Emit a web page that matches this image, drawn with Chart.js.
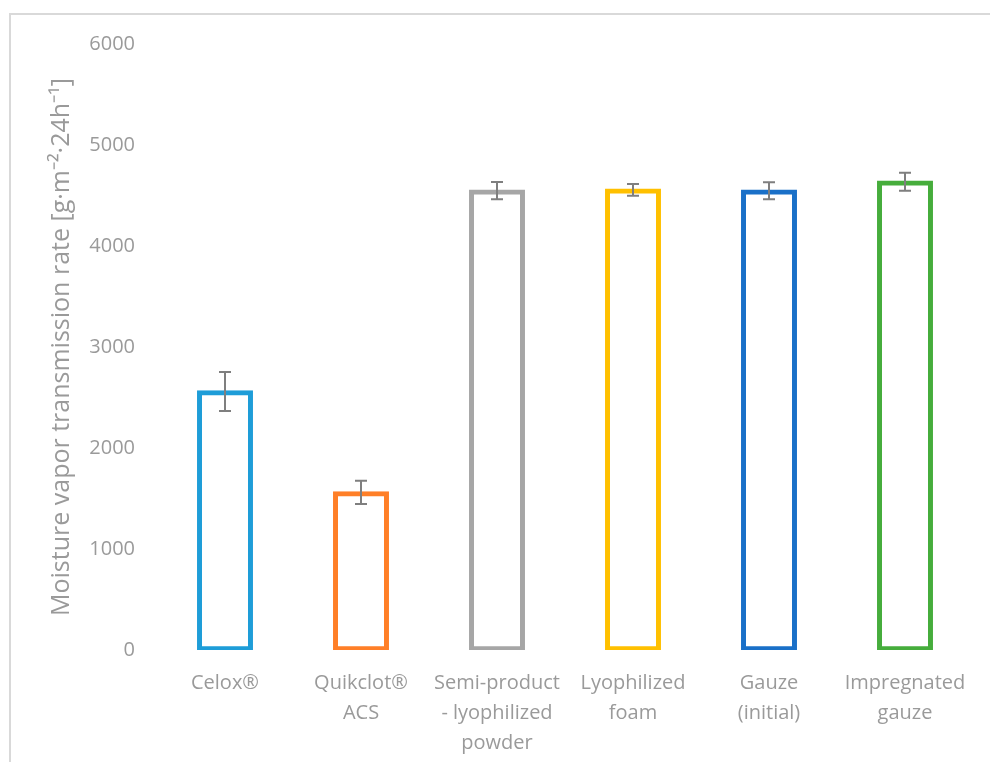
<!DOCTYPE html>
<html>
<head>
<meta charset="utf-8">
<script src="https://cdn.jsdelivr.net/npm/chart.js@4"></script>
<style>
  html, body { margin: 0; padding: 0; background: #fff; }
  #wrap { width: 990px; height: 762px; }
</style>
</head>
<body>
<div id="wrap"><canvas id="mvtrChart"></canvas></div>
<script>
// --- data ---
const categories = [
  'Celox®',
  ['Quikclot®', 'ACS'],
  ['Semi-product', '- lyophilized', 'powder'],
  ['Lyophilized', 'foam'],
  ['Gauze', '(initial)'],
  ['Impregnated', 'gauze']
];
const mvtr    = [2560, 1560, 4548, 4556, 4547, 4636];
const mvtrErr = [193, 115, 86, 58, 85, 90];
const barColors = ['#1e9dd8', '#ff7f27', '#a6a6a6', '#ffc000', '#1a70c8', '#46ad3c'];
const yTicks = { min: 0, max: 6000, step: 1000 };

const textGray = '#9a9a9a';

// frame around the plot + white page
const framePlugin = {
  id: 'frame',
  beforeDraw(chart) {
    const { ctx, width, height } = chart;
    ctx.save();
    ctx.fillStyle = '#fff';
    ctx.fillRect(0, 0, width, height);
    ctx.strokeStyle = '#d9d9d9';
    ctx.lineWidth = 2;
    ctx.strokeRect(10, 14, width + 20, height + 20);
    ctx.restore();
  }
};

// +/- error whiskers on each bar
const errorBarPlugin = {
  id: 'errorBars',
  afterDatasetsDraw(chart) {
    const { ctx } = chart;
    const y = chart.scales.y;
    const meta = chart.getDatasetMeta(0);
    ctx.save();
    ctx.strokeStyle = '#7f7f7f';
    ctx.lineWidth = 2;
    meta.data.forEach((bar, i) => {
      const top = y.getPixelForValue(mvtr[i] + mvtrErr[i]);
      const bot = y.getPixelForValue(mvtr[i] - mvtrErr[i]);
      const x = bar.x, cap = 6;
      ctx.beginPath();
      ctx.moveTo(x, top); ctx.lineTo(x, bot);
      ctx.moveTo(x - cap, top); ctx.lineTo(x + cap, top);
      ctx.moveTo(x - cap, bot); ctx.lineTo(x + cap, bot);
      ctx.stroke();
    });
    ctx.restore();
  }
};

new Chart(document.getElementById('mvtrChart'), {
  type: 'bar',
  data: {
    labels: categories,
    datasets: [{
      data: mvtr,
      backgroundColor: 'rgba(255,255,255,0)',
      borderColor: barColors,
      // thin border pushed outward so the outline straddles the bar edge
      borderWidth: 2.5,
      inflateAmount: 1.25,
      borderSkipped: false,
      barPercentage: 0.393,
      categoryPercentage: 1
    }]
  },
  options: {
    responsive: true,
    maintainAspectRatio: false,
    animation: false,
    layout: { padding: { top: 44, right: 17, left: 0, bottom: 0 } },
    plugins: {
      legend: { display: false },
      tooltip: { enabled: false }
    },
    scales: {
      x: {
        grid: { display: false },
        border: { display: false },
        ticks: {
          color: textGray,
          font: { family: 'Open Sans', size: 20, lineHeight: 1.5 },
          padding: 10,
          maxRotation: 0,
          autoSkip: false
        },
        afterFit: s => { s.height = 112; }
      },
      y: {
        min: yTicks.min,
        max: yTicks.max,
        grid: { display: false, drawTicks: false },
        border: { display: false },
        ticks: {
          stepSize: yTicks.step,
          color: textGray,
          font: { family: 'Open Sans', size: 20 },
          padding: 22,
          callback: v => String(v)
        },
        title: {
          display: true,
          text: 'Moisture vapor transmission rate [g·m⁻²·24h⁻¹]',
          color: textGray,
          font: { family: 'Open Sans', size: 25, lineHeight: 1.2 },
          padding: { top: 47, bottom: 0 }
        },
        afterFit: s => { s.width = 157; }
      }
    }
  },
  plugins: [framePlugin, errorBarPlugin]
});
</script>
</body>
</html>
